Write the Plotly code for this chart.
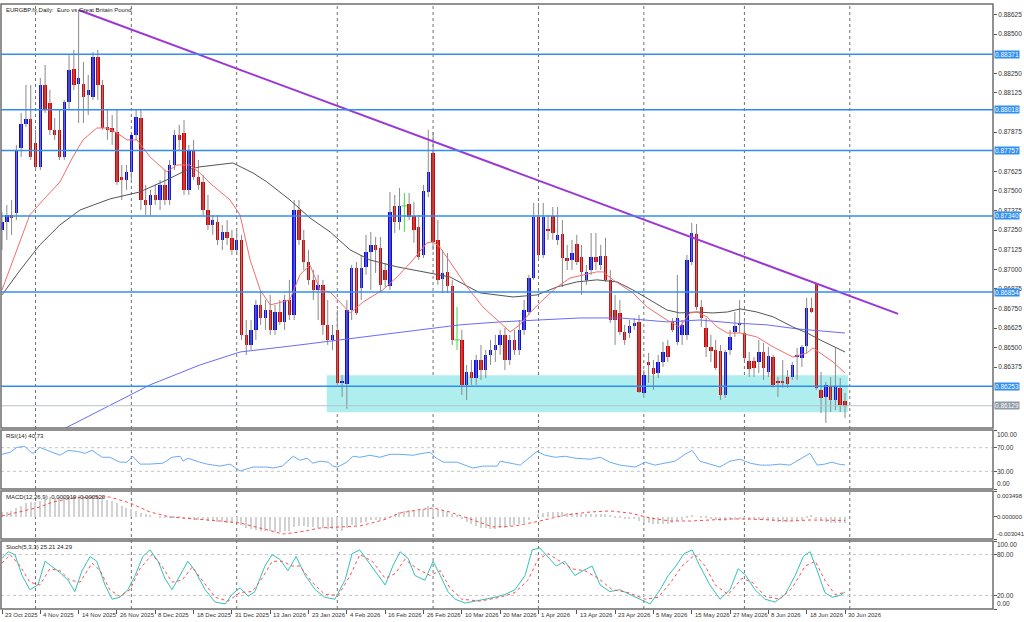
import plotly.graph_objects as go

# ---------------- data ----------------
tick_index = [0, 8, 16, 24, 32, 40, 48, 56, 64, 72, 80, 88, 96, 104, 112, 120, 128, 136, 144, 152, 160, 168, 176]
tick_labels = ["23 Oct 2025", "4 Nov 2025", "14 Nov 2025", "26 Nov 2025", "8 Dec 2025", "18 Dec 2025",
               "31 Dec 2025", "13 Jan 2026", "23 Jan 2026", "4 Feb 2026", "16 Feb 2026", "26 Feb 2026",
               "10 Mar 2026", "20 Mar 2026", "1 Apr 2026", "13 Apr 2026", "23 Apr 2026", "5 May 2026",
               "15 May 2026", "27 May 2026", "8 Jun 2026", "18 Jun 2026", "30 Jun 2026"]
month_start_index = [7, 27, 49, 70, 90, 112, 134, 155, 177]

opens = [
0.87251,0.87302,0.87346,0.87359,0.87774,0.87927,0.87959,0.87806,0.87653,0.88176,
0.88061,0.87889,0.87889,0.87716,0.88067,0.88278,0.88182,0.88182,0.88112,0.88099,
0.88354,0.88176,0.87908,0.87901,0.87876,0.87589,0.87570,0.87621,0.87857,0.87965,
0.87442,0.87410,0.87474,0.87442,0.87538,0.87442,0.87665,0.87857,0.87869,0.87506,
0.87761,0.87589,0.87557,0.87378,0.87283,0.87302,0.87187,0.87238,0.87200,0.87123,
0.87187,0.86581,0.86517,0.86613,0.86772,0.86689,0.86740,0.86613,0.86727,0.86664,
0.86804,0.86708,0.87378,0.87187,0.87046,0.86932,0.86868,0.86900,0.86645,0.86549,
0.86613,0.86275,0.86268,0.86740,0.87008,0.86881,0.87015,0.87110,0.87155,0.87136,
0.86995,0.86893,0.87404,0.87302,0.87404,0.87417,0.87340,0.87270,0.87091,0.87493,
0.87742,0.87187,0.86938,0.86983,0.86893,0.86549,0.86549,0.86262,0.86345,0.86306,
0.86421,0.86357,0.86453,0.86485,0.86517,0.86581,0.86421,0.86549,0.86485,0.86613,
0.86727,0.86944,0.87334,0.87091,0.87257,0.87340,0.87187,0.87225,0.87072,0.87059,
0.87161,0.87078,0.86932,0.86995,0.87078,0.87027,0.87085,0.86932,0.86740,0.86721,
0.86600,0.86593,0.86638,0.86664,0.86211,0.86408,0.86370,0.86338,0.86408,0.86511,
0.86664,0.86536,0.86581,0.86581,0.87046,0.87225,0.86759,0.86625,0.86504,0.86485,
0.86479,0.86198,0.86485,0.86600,0.86645,0.86593,0.86415,0.86415,0.86408,0.86472,
0.86345,0.86440,0.86287,0.86281,0.86313,0.86313,0.86440,0.86434,0.86511,0.86753,
0.86906,0.86230,0.86185,0.86249,0.86166,0.86243,0.86160]
highs = [
0.87365,0.87410,0.87442,0.87793,0.87997,0.88176,0.88176,0.87889,0.88220,0.88303,
0.88144,0.87965,0.88016,0.88080,0.88367,0.88399,0.88654,0.88322,0.88240,0.88386,
0.88399,0.88208,0.88016,0.87984,0.88016,0.87665,0.87665,0.87825,0.88016,0.88016,
0.87538,0.87506,0.87538,0.87570,0.87633,0.87697,0.87889,0.87921,0.87952,0.87793,
0.87825,0.87697,0.87602,0.87474,0.87346,0.87346,0.87283,0.87314,0.87251,0.87251,
0.87219,0.86676,0.86676,0.86804,0.86868,0.86804,0.86836,0.86772,0.86804,0.86836,
0.86932,0.87442,0.87442,0.87251,0.87123,0.86995,0.86964,0.86932,0.86804,0.86645,
0.86740,0.86325,0.86804,0.87027,0.87046,0.87091,0.87219,0.87238,0.87206,0.87206,
0.87040,0.87493,0.87474,0.87519,0.87487,0.87487,0.87429,0.87346,0.87538,0.87889,
0.87876,0.87314,0.87123,0.87104,0.86932,0.86759,0.86613,0.86389,0.86421,0.86453,
0.86517,0.86485,0.86549,0.86581,0.86613,0.86625,0.86581,0.86613,0.86676,0.86804,
0.86964,0.87423,0.87423,0.87423,0.87346,0.87397,0.87397,0.87314,0.87155,0.87187,
0.87219,0.87155,0.87027,0.87231,0.87231,0.87155,0.87200,0.86995,0.86836,0.86804,
0.86645,0.86676,0.86689,0.86708,0.86357,0.86466,0.86421,0.86453,0.86536,0.86549,
0.86689,0.86964,0.86676,0.87091,0.87295,0.87289,0.86804,0.86689,0.86581,0.86549,
0.86517,0.86485,0.86613,0.86727,0.86804,0.86676,0.86472,0.86440,0.86549,0.86530,
0.86504,0.86453,0.86313,0.86421,0.86357,0.86408,0.86498,0.86517,0.86817,0.86817,
0.86913,0.86345,0.86281,0.86313,0.86498,0.86306,0.86211]
lows = [
0.87123,0.87187,0.87219,0.87314,0.87716,0.87908,0.87697,0.87633,0.87633,0.87997,
0.87857,0.87825,0.87697,0.87697,0.88016,0.88144,0.87933,0.87933,0.87984,0.88080,
0.88080,0.87889,0.87825,0.87793,0.87538,0.87442,0.87506,0.87570,0.87825,0.87378,
0.87346,0.87346,0.87410,0.87378,0.87410,0.87410,0.87633,0.87761,0.87474,0.87474,
0.87570,0.87506,0.87346,0.87251,0.87219,0.87155,0.87123,0.87155,0.87091,0.87091,
0.86549,0.86453,0.86485,0.86549,0.86645,0.86613,0.86581,0.86581,0.86645,0.86613,
0.86676,0.86676,0.87155,0.86995,0.86900,0.86804,0.86676,0.86581,0.86517,0.86485,
0.86262,0.86185,0.86109,0.86676,0.86708,0.86804,0.86964,0.86868,0.86976,0.86849,
0.86887,0.86868,0.87231,0.87251,0.87238,0.87314,0.87168,0.87059,0.87072,0.87461,
0.87123,0.86900,0.86849,0.86849,0.86517,0.86485,0.86198,0.86166,0.86262,0.86262,
0.86294,0.86306,0.86389,0.86408,0.86453,0.86357,0.86389,0.86453,0.86453,0.86581,
0.86708,0.86932,0.87059,0.87072,0.87187,0.87187,0.87155,0.86887,0.86995,0.86995,
0.87027,0.86836,0.86900,0.86964,0.86995,0.86995,0.86919,0.86657,0.86517,0.86581,
0.86517,0.86562,0.86613,0.86211,0.86179,0.86275,0.86230,0.86306,0.86376,0.86408,
0.86600,0.86517,0.86517,0.86549,0.87027,0.86740,0.86632,0.86440,0.86408,0.86357,
0.86166,0.86179,0.86453,0.86568,0.86593,0.86421,0.86313,0.86313,0.86338,0.86294,
0.86313,0.86243,0.86185,0.86243,0.86243,0.86294,0.86294,0.86376,0.86466,0.86721,
0.86230,0.86083,0.86019,0.86089,0.86102,0.86089,0.86051]
closes = [
0.87302,0.87346,0.87327,0.87761,0.87927,0.87959,0.87716,0.87653,0.88176,0.88016,
0.87889,0.87857,0.87716,0.88067,0.88271,0.88176,0.88220,0.88099,0.88144,0.88354,
0.88176,0.87901,0.87889,0.87876,0.87557,0.87570,0.87621,0.87857,0.87972,0.87442,
0.87410,0.87474,0.87442,0.87538,0.87442,0.87665,0.87857,0.87825,0.87506,0.87761,
0.87589,0.87538,0.87378,0.87283,0.87314,0.87187,0.87238,0.87200,0.87123,0.87187,
0.86581,0.86517,0.86613,0.86772,0.86689,0.86740,0.86613,0.86727,0.86664,0.86804,
0.86708,0.87378,0.87187,0.87046,0.86932,0.86868,0.86900,0.86645,0.86549,0.86581,
0.86275,0.86281,0.86740,0.87008,0.86721,0.87008,0.87110,0.87155,0.87123,0.86900,
0.86932,0.87365,0.87302,0.87404,0.87404,0.87334,0.87251,0.87078,0.87500,0.87621,
0.87174,0.86932,0.86976,0.86893,0.86549,0.86549,0.86262,0.86345,0.86306,0.86421,
0.86357,0.86453,0.86485,0.86517,0.86581,0.86421,0.86549,0.86485,0.86613,0.86740,
0.86944,0.87334,0.87091,0.87334,0.87244,0.87231,0.87219,0.87072,0.87053,0.87104,
0.87046,0.86983,0.86983,0.87078,0.87046,0.87085,0.86932,0.86676,0.86676,0.86600,
0.86549,0.86638,0.86657,0.86217,0.86325,0.86389,0.86332,0.86408,0.86472,0.86440,
0.86613,0.86689,0.86645,0.87059,0.87231,0.86759,0.86689,0.86504,0.86479,0.86370,
0.86198,0.86472,0.86568,0.86638,0.86657,0.86434,0.86364,0.86370,0.86472,0.86370,
0.86447,0.86262,0.86275,0.86275,0.86268,0.86389,0.86447,0.86504,0.86753,0.86727,
0.86243,0.86179,0.86262,0.86166,0.86255,0.86134,0.86129]

# moving averages (bar index, price)
ma_fast_x = [0, 2.7, 5.8, 8.6, 12.1, 14.8, 16.9, 19.8, 21.9, 24.0, 26.1, 28.2, 30.9, 34.4, 36.5, 39.2, 41.3, 43.4,
             47.6, 49.7, 51.8, 53.9, 56.0, 60.1, 62.2, 64.3, 66.4, 68.5, 72.7, 75.4, 79.5, 82.5, 85.8, 88.7, 90.0,
             91.4, 94.2, 97.1, 100.4, 103.3, 106.1, 108.1, 110.2, 112.9, 115.9, 118.6, 121.3, 124.2, 125.5, 127.6,
             131.7, 134.7, 138.8, 141.5, 143.6, 145.1, 147.2, 149.3, 151.4, 154.1, 157.6, 161.0, 165.1, 168.1,
             169.3, 170.8, 173.5, 176.0]
ma_fast_y = [0.86868, 0.87091, 0.87346, 0.87442, 0.87557, 0.87716, 0.87825, 0.87901, 0.87901, 0.87869, 0.87825,
             0.87825, 0.87716, 0.87621, 0.87665, 0.87665, 0.87614, 0.87550, 0.87442, 0.87346, 0.87059, 0.86868,
             0.86772, 0.86804, 0.86964, 0.87027, 0.86868, 0.86855, 0.86721, 0.86791, 0.86868, 0.86951, 0.87059,
             0.87168, 0.87174, 0.87142, 0.87015, 0.86887, 0.86759, 0.86676, 0.86600, 0.86645, 0.86721, 0.86804,
             0.86887, 0.86944, 0.86964, 0.86983, 0.86983, 0.86932, 0.86849, 0.86759, 0.86676, 0.86632, 0.86721,
             0.86727, 0.86696, 0.86632, 0.86593, 0.86593, 0.86568, 0.86504, 0.86440, 0.86466, 0.86498, 0.86466,
             0.86408, 0.86338]
ma_mid_x = [0, 3.8, 7.9, 12.1, 16.3, 22.5, 28.8, 34.4, 38.6, 41.3, 48.2, 52.4, 55.3, 60.1, 64.3, 68.5, 72.7, 76.8,
            82.5, 89.4, 93.5, 99.8, 106.7, 111.7, 115.9, 120.0, 124.2, 128.4, 131.7, 135.3, 138.8, 141.5, 145.1,
            148.4, 151.4, 154.1, 157.6, 161.0, 165.1, 168.1, 170.8, 176.0]
ma_mid_y = [0.86836, 0.86995, 0.87155, 0.87283, 0.87378, 0.87448, 0.87493, 0.87570, 0.87633, 0.87653, 0.87678,
            0.87614, 0.87557, 0.87442, 0.87327, 0.87238, 0.87123, 0.87059, 0.87015, 0.86976, 0.86951, 0.86849,
            0.86823, 0.86836, 0.86887, 0.86919, 0.86932, 0.86919, 0.86868, 0.86804, 0.86740, 0.86721, 0.86727,
            0.86721, 0.86727, 0.86747, 0.86727, 0.86696, 0.86632, 0.86593, 0.86549, 0.86472]
ma_slow_x = [12.5, 20.5, 30.9, 41.3, 49.7, 62.2, 70.6, 78.9, 87.3, 95.6, 104.0, 112.3, 120.7, 129.0, 138.8, 145.7,
             152.6, 159.7, 166.1, 176.0]
ma_slow_y = [0.85975, 0.86102, 0.86262, 0.86389, 0.86472, 0.86517, 0.86549, 0.86581, 0.86613, 0.86645, 0.86664,
             0.86676, 0.86689, 0.86689, 0.86664, 0.86676, 0.86657, 0.86645, 0.86619, 0.86593]

level_prices = [0.88371, 0.88018, 0.87757, 0.87340, 0.86854, 0.86253]
level_labels = ["0.88371", "0.88018", "0.87757", "0.87340", "0.86854", "0.86253"]
current_price = 0.86129
current_label = "0.86129"
zone_x = [67.8, 176.6]
zone_y = [0.86088, 0.86324]
trend_x = [16, 187.1]
trend_y = [0.88654, 0.86715]
price_ticks = [0.88625, 0.88500, 0.88250, 0.88125, 0.87875, 0.87625, 0.87500,
               0.87375, 0.87250, 0.87125, 0.87000, 0.86875, 0.86750, 0.86625, 0.86500, 0.86375]

rsi_x = [0, 1.7, 3.1, 4.8, 5.8, 6.5, 7.9, 10.0, 12.1, 13.8, 15.7, 17.3, 18.8, 20.9, 22.5, 24.6, 26.1, 27.3, 28.8,
         30.9, 33.6, 35.5, 37.2, 37.8, 38.8, 41.3, 42.8, 45.5, 47.6, 48.2, 49.7, 52.4, 55.3, 56.6, 58.5, 60.8, 62.2,
         63.7, 64.9, 66.4, 68.1, 69.1, 70.0, 72.0, 73.3, 74.7, 76.8, 78.9, 81.0, 83.1, 85.8, 87.9, 89.4, 90.4, 92.1,
         95.0, 97.1, 98.3, 100.4, 103.4, 104.0, 106.1, 108.2, 110.2, 111.7, 113.4, 115.5, 117.6, 119.6, 122.8,
         124.9, 126.9, 129.0, 132.2, 134.3, 136.3, 138.4, 140.5, 142.6, 144.1, 145.7, 147.8, 149.9, 152.0, 154.1,
         156.2, 158.3, 160.4, 162.4, 164.5, 166.6, 168.7, 170.2, 171.8, 173.3, 174.6, 176.0]
rsi_y = [58.8, 62.2, 70.5, 72.2, 63.8, 60.5, 70.5, 63.8, 57.2, 65.5, 63.8, 60.5, 65.5, 53.8, 53.8, 45.5, 45.5, 55.5,
         42.2, 42.2, 43.8, 53.8, 55.5, 47.2, 52.2, 45.5, 42.2, 38.8, 42.2, 38.8, 30.5, 37.2, 37.2, 35.5, 38.8, 55.5,
         48.8, 52.2, 43.8, 47.2, 45.5, 38.8, 37.2, 45.5, 55.5, 53.8, 57.2, 53.8, 58.8, 58.8, 57.2, 60.5, 62.2, 53.8,
         45.5, 45.5, 38.8, 35.5, 38.8, 38.8, 47.2, 43.8, 40.5, 53.8, 63.8, 57.2, 53.8, 55.5, 52.2, 50.5, 53.8, 45.5,
         40.5, 37.2, 45.5, 40.5, 43.8, 47.2, 58.8, 65.5, 47.2, 42.2, 37.2, 47.2, 50.5, 43.8, 40.5, 40.5, 42.2, 40.5,
         50.5, 60.5, 40.5, 42.2, 45.5, 42.2, 40.73]

# MACD main values per bar, in units of 0.0001
macd_main = [6, 7, 8, 12, 15, 18, 20, 20, 22, 24, 26, 26, 27, 27, 28, 28, 29, 28, 28, 28,
             27, 25, 23, 21, 18, 15, 12, 10, 8, 5, 3, 1, 0, -1, -2, -2, -1, -1, -3, -3,
             -4, -4, -5, -6, -6, -7, -7, -8, -8, -9, -12, -15, -17, -18, -19, -20, -20, -21, -21, -20,
             -19, -14, -13, -13, -14, -14, -15, -16, -17, -17, -18, -19, -15, -12, -11, -9, -7, -5, -5, -4,
             -4, 0, 3, 6, 8, 9, 9, 9, 11, 14, 12, 10, 9, 7, 4, 1, -3, -7, -10, -13,
             -15, -16, -17, -17, -16, -15, -13, -12, -10, -8, -5, 0, 3, 5, 6, 7, 7, 6, 5, 5,
             5, 4, 4, 4, 4, 4, 3, 1, -1, -2, -3, -3, -3, -6, -8, -9, -10, -10, -10, -10,
             -9, -6, -5, -2, 1, 0, -1, -2, -3, -4, -6, -6, -5, -4, -3, -4, -5, -5, -5, -5,
             -5, -6, -7, -7, -7, -6, -5, -4, -1, 1, -3, -5, -7, -8, -8, -9, -9.19]
macd_sig_x = [0, 3.8, 7.9, 10.6, 14.8, 19.8, 22.5, 26.7, 30.9, 35.1, 41.3, 45.5, 49.7, 55.3, 58.7, 62.2, 66.4,
              70.6, 74.7, 79.6, 83.1, 86.7, 90.0, 93.5, 98.3, 102.5, 107.1, 112.3, 117.6, 122.8, 126.9, 131.1,
              135.3, 139.5, 143.7, 147.8, 152.0, 156.2, 160.4, 164.5, 168.7, 172.9, 176.0]
macd_sig_y = [1.0, 6.4, 13.2, 20.0, 25.5, 26.8, 26.8, 18.7, 6.4, -0.4, -3.1, -5.9, -8.6, -18.1, -23.6, -20.8,
              -15.4, -14.0, -12.7, -4.5, 5.0, 9.1, 11.9, 6.4, -4.5, -14.0, -12.7, -5.9, 2.3, 6.4, 7.8, 5.0, -1.8,
              -5.9, -5.9, -4.5, -3.1, -3.1, -4.5, -5.9, -4.5, -4.5, -5.2]
macd_top, macd_bottom = 0.003498, -0.003041

stoch_k_x = [0, 1.3, 2.7, 4.2, 5.8, 7.5, 9.0, 10.4, 12.1, 13.8, 15.2, 16.7, 18.4, 19.8, 21.5, 23.0, 24.6, 26.3,
             27.8, 29.4, 30.9, 32.6, 34.0, 35.5, 37.2, 38.8, 40.3, 42.4, 44.5, 46.6, 48.0, 49.7, 51.4, 52.8, 54.9,
             56.4, 58.0, 59.7, 61.4, 63.3, 65.4, 67.4, 69.5, 71.6, 73.1, 74.7, 76.4, 78.5, 80.0, 81.6, 83.1, 84.8,
             86.2, 88.3, 90.0, 91.5, 93.1, 94.6, 96.7, 98.8, 100.8, 102.9, 105.0, 107.1, 109.2, 110.7, 112.3, 114.0,
             115.7, 117.5, 119.6, 121.3, 123.2, 124.9, 126.9, 129.0, 131.1, 133.2, 135.3, 137.4, 139.1, 140.7,
             142.4, 144.1, 145.7, 147.8, 149.9, 152.0, 153.7, 155.3, 157.2, 159.3, 161.4, 163.5, 165.6, 167.3,
             168.7, 170.2, 171.8, 173.3, 175.0, 176.0]
stoch_k_y = [74.4, 84.2, 80.0, 49.3, 28.4, 35.3, 70.2, 63.2, 53.5, 42.3, 25.6, 56.3, 77.2, 70.2, 35.3, 14.4, 17.2,
             28.4, 49.3, 77.2, 86.9, 70.2, 45.1, 28.4, 49.3, 70.2, 56.3, 28.4, 10.2, 7.4, 21.4, 31.2, 18.6, 25.6,
             63.2, 80.0, 73.0, 56.3, 77.2, 49.3, 28.4, 17.2, 14.4, 42.3, 81.4, 86.9, 70.2, 49.3, 35.3, 63.2, 84.2,
             74.4, 49.3, 42.3, 70.2, 49.3, 25.6, 14.4, 8.8, 11.6, 14.4, 17.2, 21.4, 28.4, 49.3, 86.9, 89.7, 77.2,
             63.2, 70.2, 49.3, 56.3, 63.2, 35.3, 25.6, 28.4, 21.4, 14.4, 7.4, 28.4, 49.3, 63.2, 81.4, 86.9, 63.2,
             35.3, 14.4, 28.4, 59.1, 49.3, 28.4, 14.4, 10.2, 21.4, 49.3, 77.2, 84.2, 56.3, 24.2, 17.2, 20.0, 25.21]
stoch_d_x = [0, 1.7, 3.8, 5.8, 7.9, 10.0, 12.1, 14.2, 16.3, 18.8, 20.5, 22.5, 24.6, 26.7, 28.8, 31.3, 33.4, 35.5,
             37.6, 39.7, 41.8, 44.5, 47.2, 49.7, 52.2, 54.3, 56.4, 58.5, 60.6, 62.2, 64.7, 67.4, 70.2, 72.7, 74.7,
             77.3, 80.0, 82.1, 84.1, 86.7, 89.4, 91.5, 93.5, 96.0, 99.8, 104.0, 107.1, 109.8, 111.9, 114.0, 116.5,
             119.0, 121.7, 124.5, 127.4, 130.7, 134.3, 137.0, 139.5, 142.0, 144.7, 146.8, 148.9, 151.6, 154.5,
             156.6, 159.3, 162.4, 165.0, 167.7, 169.8, 171.8, 173.9, 176.0]
stoch_d_y = [67.4, 80.0, 63.2, 39.5, 35.3, 59.1, 56.3, 42.3, 39.5, 67.4, 56.3, 28.4, 18.6, 28.4, 59.1, 80.0, 63.2,
             39.5, 42.3, 61.8, 42.3, 17.2, 11.6, 24.2, 25.6, 45.1, 70.2, 70.2, 63.2, 63.2, 39.5, 21.4, 20.0, 49.3,
             80.0, 70.2, 45.1, 52.1, 73.0, 59.1, 49.3, 56.3, 31.2, 14.4, 11.6, 17.2, 24.2, 42.3, 73.0, 81.4, 70.2,
             59.1, 56.3, 45.1, 28.4, 24.2, 14.4, 17.2, 38.1, 63.2, 80.0, 63.2, 35.3, 21.4, 45.1, 39.5, 18.6, 14.4,
             31.2, 63.2, 70.2, 42.3, 21.4, 24.29]

title_text = "EURGBP.fx,Daily:  Euro vs Great Britain Pound"
rsi_text = "RSI(14) 40.73"
macd_text = "MACD(12,26,9) -0.000919 -0.000520"
stoch_text = "Stoch(5,3,3) 25.21 24.29"

# ---------------- figure ----------------
n = len(closes)
assert len(opens) == n and len(highs) == n and len(lows) == n and len(macd_main) == n
idx = list(range(n))

W, H = 1024, 622
M_L, M_R, M_T, M_B = 1, 31, 4, 13
plot_h = H - M_T - M_B
bottom_px = H - M_B


def dom(top_px, bot_px):
    return [(bottom_px - bot_px) / plot_h, (bottom_px - top_px) / plot_h]


D_MAIN = dom(4, 428)
D_RSI = dom(430, 489)
D_MACD = dom(491, 539)
D_STO = dom(541, 609)

FONT = "Liberation Sans"
AX_FS = 6.5
BULL, BEAR, DOJI = "#0b0bf0", "#dc0000", "#3ddc3d"

fig = go.Figure()

# wicks
wx, wy, dx, dy = [], [], [], []
for i in idx:
    if opens[i] == closes[i]:
        dx += [i, i, None]
        dy += [lows[i], highs[i], None]
    else:
        wx += [i, i, None]
        wy += [lows[i], highs[i], None]
fig.add_trace(go.Scatter(x=wx, y=wy, mode="lines", line=dict(color="#8a8a8a", width=1),
                         hoverinfo="skip", showlegend=False))
fig.add_trace(go.Scatter(x=dx, y=dy, mode="lines", line=dict(color=DOJI, width=1),
                         hoverinfo="skip", showlegend=False))
doji_i = [i for i in idx if opens[i] == closes[i]]
fig.add_trace(go.Scatter(x=doji_i, y=[closes[i] for i in doji_i], mode="markers",
                         marker=dict(symbol="line-ew", size=4, line=dict(color=DOJI, width=1)),
                         showlegend=False, hoverinfo="skip"))
# bodies
body_i = [i for i in idx if opens[i] != closes[i]]
fig.add_trace(go.Bar(x=body_i, y=[abs(closes[i] - opens[i]) for i in body_i],
                     base=[min(opens[i], closes[i]) for i in body_i], width=0.72,
                     marker=dict(color=[BULL if closes[i] > opens[i] else BEAR for i in body_i], line=dict(width=0)),
                     showlegend=False, hoverinfo="skip"))

# moving averages
fig.add_trace(go.Scatter(x=ma_slow_x, y=ma_slow_y, mode="lines", line=dict(color="#6a6aff", width=1),
                         showlegend=False, hoverinfo="skip"))
fig.add_trace(go.Scatter(x=ma_mid_x, y=ma_mid_y, mode="lines", line=dict(color="#555555", width=1),
                         showlegend=False, hoverinfo="skip"))
fig.add_trace(go.Scatter(x=ma_fast_x, y=ma_fast_y, mode="lines", line=dict(color="#f26d6d", width=1),
                         showlegend=False, hoverinfo="skip"))
# trend line
fig.add_trace(go.Scatter(x=trend_x, y=trend_y, mode="lines", line=dict(color="#9a38d6", width=2),
                         showlegend=False, hoverinfo="skip"))

# RSI
fig.add_trace(go.Scatter(x=rsi_x, y=rsi_y, yaxis="y2", mode="lines", line=dict(color="#6aaaf5", width=1),
                         showlegend=False, hoverinfo="skip"))
# MACD
fig.add_trace(go.Bar(x=idx, y=[v * 1e-4 for v in macd_main], yaxis="y3", width=0.25,
                     marker=dict(color="#d2d2d2", line=dict(width=0)), showlegend=False, hoverinfo="skip"))
fig.add_trace(go.Scatter(x=macd_sig_x, y=[v * 1e-4 for v in macd_sig_y], yaxis="y3", mode="lines",
                         line=dict(color="#ff4a4a", width=1, dash="dot"), showlegend=False, hoverinfo="skip"))
# Stochastic
fig.add_trace(go.Scatter(x=stoch_k_x, y=stoch_k_y, yaxis="y4", mode="lines",
                         line=dict(color="#35c0b8", width=1), showlegend=False, hoverinfo="skip"))
fig.add_trace(go.Scatter(x=stoch_d_x, y=stoch_d_y, yaxis="y4", mode="lines",
                         line=dict(color="#ff4a4a", width=1, dash="dot"), showlegend=False, hoverinfo="skip"))

shapes = []
shapes.append(dict(type="rect", xref="x", yref="y", x0=zone_x[0], x1=zone_x[1], y0=zone_y[0], y1=zone_y[1],
                   fillcolor="#afeeee", line=dict(width=0), layer="below"))
for m in month_start_index:
    shapes.append(dict(type="line", xref="x", yref="paper", x0=m, x1=m, y0=0, y1=1,
                       line=dict(color="#707070", width=1, dash="dot"), layer="below"))
for lv in (70, 30):
    shapes.append(dict(type="line", xref="paper", yref="y2", x0=0, x1=1, y0=lv, y1=lv,
                       line=dict(color="#c4c4c4", width=1, dash="dot"), layer="below"))
for lv in (80, 20):
    shapes.append(dict(type="line", xref="paper", yref="y4", x0=0, x1=1, y0=lv, y1=lv,
                       line=dict(color="#c4c4c4", width=1, dash="dot"), layer="below"))
for p in level_prices:
    shapes.append(dict(type="line", xref="paper", yref="y", x0=0, x1=1, y0=p, y1=p,
                       line=dict(color="#2f8ff0", width=1.5), layer="above"))
shapes.append(dict(type="line", xref="paper", yref="y", x0=0, x1=1, y0=current_price, y1=current_price,
                   line=dict(color="#b8c0c8", width=1), layer="above"))
for d in (D_MAIN, D_RSI, D_MACD, D_STO):
    shapes.append(dict(type="rect", xref="paper", yref="paper", x0=0, x1=1, y0=d[0], y1=d[1],
                       line=dict(color="#6e6e6e", width=1.5), fillcolor="rgba(0,0,0,0)", layer="above"))

annotations = []
for p, lab in zip(level_prices, level_labels):
    annotations.append(dict(xref="paper", yref="y", x=1, y=p, xanchor="left", yanchor="middle", xshift=1,
                            text=lab, showarrow=False, bgcolor="#2f8ff0", borderpad=0,
                            font=dict(family=FONT, size=AX_FS, color="white")))
annotations.append(dict(xref="paper", yref="y", x=1, y=current_price, xanchor="left", yanchor="middle", xshift=1,
                        text=current_label, showarrow=False, bgcolor="#8e9aa8", borderpad=0,
                        font=dict(family=FONT, size=AX_FS, color="white")))
for ti, tl in zip(tick_index, tick_labels):
    annotations.append(dict(xref="x", yref="paper", x=ti, y=0, xanchor="left", yanchor="top", xshift=1,
                            yshift=-1, text=tl, showarrow=False, font=dict(family=FONT, size=6, color="#333333")))
for txt, d in ((title_text, D_MAIN), (rsi_text, D_RSI), (macd_text, D_MACD), (stoch_text, D_STO)):
    annotations.append(dict(xref="paper", yref="paper", x=0, y=d[1], xanchor="left", yanchor="top",
                            xshift=3, yshift=-1, text=txt, showarrow=False,
                            font=dict(family=FONT, size=6, color="#222222")))

# indicator scale labels (extreme labels kept inside their panel)
panel_labels = [
    ("y2", 100, "100.00", "top", 1, AX_FS), ("y2", 70, "70.00", "middle", 0, AX_FS),
    ("y2", 30, "30.00", "middle", 0, AX_FS), ("y2", 0, "0.00", "bottom", 0, AX_FS),
    ("y3", macd_top, "%.6f" % macd_top, "top", 0, 6), ("y3", 0, "0.000000", "middle", 0, 6),
    ("y3", macd_bottom, "%.6f" % macd_bottom, "bottom", 0, 6),
    ("y4", 100, "100.00", "top", 2, AX_FS), ("y4", 80, "80.00", "middle", 0, AX_FS),
    ("y4", 20, "20.00", "middle", 0, AX_FS), ("y4", 0, "0.00", "bottom", 0, AX_FS),
]
for yr, val, txt, anc, ys, fs in panel_labels:
    annotations.append(dict(xref="paper", yref=yr, x=1, y=val, xanchor="left", yanchor=anc, xshift=2, yshift=ys,
                            text=txt, showarrow=False, font=dict(family=FONT, size=fs, color="#333333")))

yax_common = dict(side="right", anchor="x", showgrid=False, zeroline=False, ticks="outside", ticklen=3,
                  tickcolor="#555555", tickfont=dict(family=FONT, size=AX_FS, color="#333333"), showline=False,
                  fixedrange=True)

fig.update_layout(
    width=W, height=H, margin=dict(l=M_L, r=M_R, t=M_T, b=M_B),
    paper_bgcolor="white", plot_bgcolor="white", barmode="overlay", bargap=0,
    showlegend=False, shapes=shapes, annotations=annotations,
    xaxis=dict(range=[-0.21, 206.9], anchor="y4", showgrid=False, zeroline=False, tickvals=tick_index,
               showticklabels=False, ticks="outside", ticklen=4, tickcolor="#555555", showline=False),
    yaxis=dict(domain=D_MAIN, range=[0.85987, 0.88692], tickvals=price_ticks,
               ticktext=["%.5f" % v for v in price_ticks], **yax_common),
    yaxis2=dict(domain=D_RSI, range=[0, 100], tickvals=[100, 70, 30, 0], showticklabels=False, **yax_common),
    yaxis3=dict(domain=D_MACD, range=[macd_bottom, macd_top], tickvals=[macd_top, 0, macd_bottom],
                showticklabels=False, **yax_common),
    yaxis4=dict(domain=D_STO, range=[0, 100], tickvals=[100, 80, 20, 0], showticklabels=False, **yax_common),
)

fig.write_html("out.html")
